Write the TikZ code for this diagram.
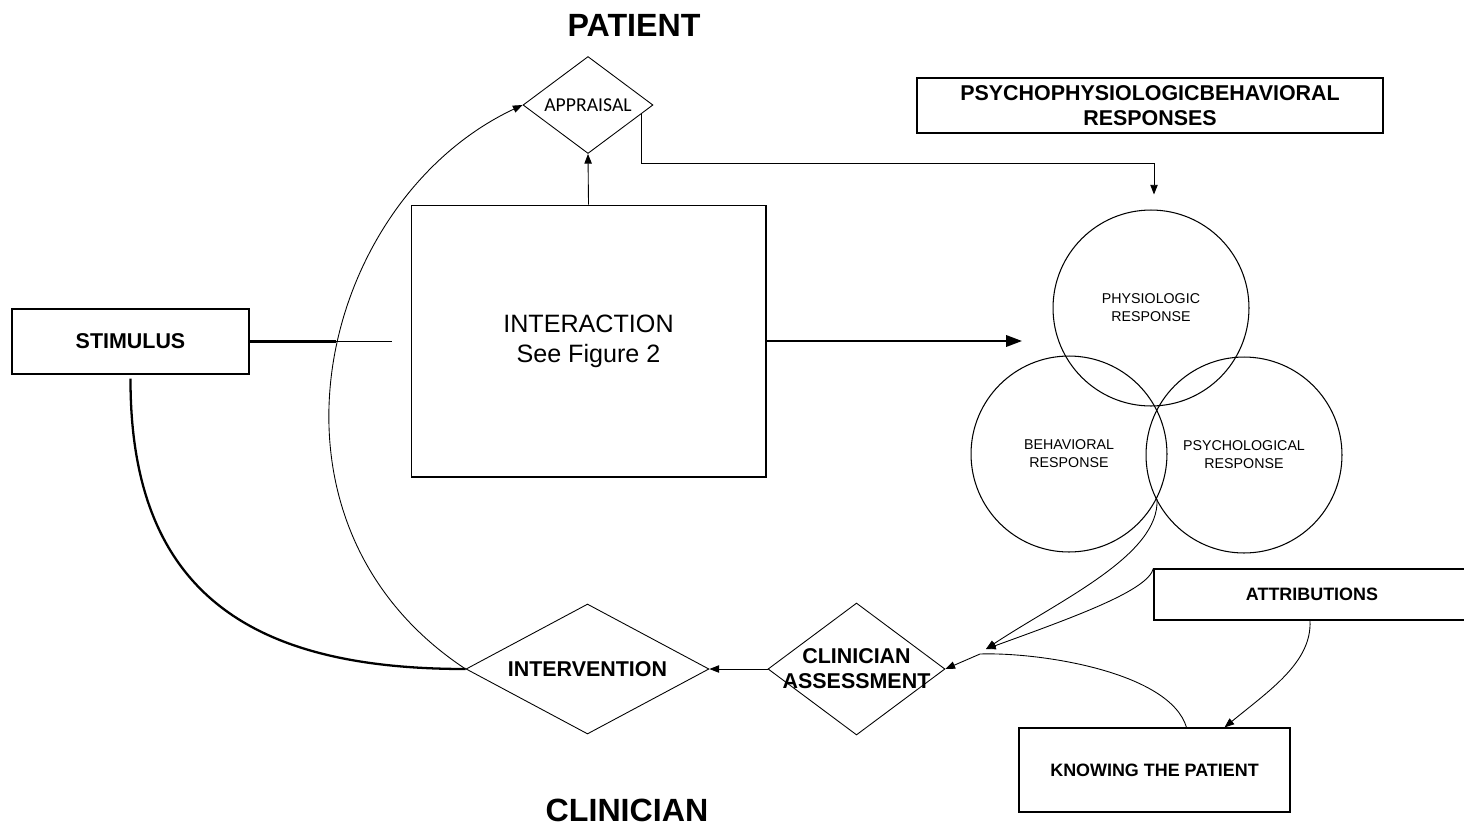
\documentclass[tikz,border=0pt]{standalone}
\usepackage{fontspec}
\setmainfont{Liberation Sans}
\newfontfamily\calibrifont{Carlito}
\usetikzlibrary{shapes.geometric,arrows.meta,calc}

\begin{document}
\begin{tikzpicture}[x=0.02cm,y=-0.02cm,
  box/.style={draw,line width=0.7pt,inner sep=0pt,align=center,
    font=\bfseries\fontsize{12.2}{14.2}\selectfont},
  dia/.style={draw,diamond,line width=0.5pt,inner sep=0pt},
  dialabel/.style={align=center,font=\bfseries\fontsize{12.2}{14.2}\selectfont},
  resp/.style={draw,circle,line width=0.6pt,minimum size=3.92cm,inner sep=0pt,
    align=center,font=\fontsize{8.1}{10.3}\selectfont},
  link/.style={line width=0.5pt},
  tip/.style={-{Triangle[length=5.5pt,width=4.2pt]}},
  title/.style={font=\bfseries\fontsize{18.3}{22}\selectfont}
]

\useasboundingbox (0,0) rectangle (1464,829);

% titles
\node[title]
(patient)
at (634,25)
{PATIENT};

\node[title]
(clinician)
at (627,810)
{CLINICIAN};

% boxes
\node[box,minimum width=4.74cm,minimum height=1.3cm]
(stim)
at (130.5,341.5)
{STIMULUS};

\node[box,line width=0.6pt,minimum width=7.1cm,minimum height=5.44cm,
  font=\fontsize{14.3}{17}\selectfont]
(inter)
at (588.5,341)
{INTERACTION\\See Figure 2};

\node[box,minimum width=9.32cm,minimum height=1.1cm]
(ppb)
at (1150,105.5)
{PSYCHOPHYSIOLOGICBEHAVIORAL\\RESPONSES};

\node[box,minimum width=6.32cm,minimum height=1.02cm,
  font=\bfseries\fontsize{10.2}{12}\selectfont]
(attr)
at (1312,594.5)
{ATTRIBUTIONS};

\node[box,minimum width=5.42cm,minimum height=1.68cm,
  font=\bfseries\fontsize{10.2}{12}\selectfont]
(know)
at (1154.5,770)
{KNOWING THE PATIENT};

% diamonds
\node[dia,minimum width=2.6cm,minimum height=1.94cm,
  label={[font=\calibrifont\fontsize{11.2}{13}\selectfont]center:APPRAISAL}]
(appr)
at (588,105)
{};

\node[dia,minimum width=4.86cm,minimum height=2.6cm,
  label={[dialabel]center:INTERVENTION}]
(interv)
at (587.5,669)
{};

\node[dia,minimum width=3.54cm,minimum height=2.64cm,
  label={[dialabel]center:CLINICIAN\\ASSESSMENT}]
(clin)
at (856.5,669)
{};

% responses
\node[resp]
(phys)
at (1151,308)
{PHYSIOLOGIC\\RESPONSE};

\node[resp]
(behav)
at (1069,454)
{BEHAVIORAL\\RESPONSE};

\node[resp]
(psych)
at (1244,455)
{PSYCHOLOGICAL\\RESPONSE};

% free ends
\coordinate (cross) at (336,341.5);
\coordinate (gap) at (392,341.5);
\coordinate (resp in) at (1022,341);
\coordinate (appr out) at ($(appr.east)!0.18!(appr.south)$);
\coordinate (bp) at (1157,499);
\coordinate (merge) at (986,649);
\coordinate (kbend) at (980,654);

% connectors
\draw[line width=1.4pt]
(stim.east)
--
(cross);

\draw[link]
(cross)
--
(gap);

\draw[line width=1.1pt,-{Triangle[length=9pt,width=6.5pt]}]
(inter.east)
--
(resp in);

\draw[link,tip]
(inter.north)
--
(appr.south);

\draw[link,tip]
(appr out)
|-
($(phys.north)+(3,-46)$)
--
($(phys.north)+(3,-15)$);

\draw[line width=1.3pt]
($(stim.south)+(0,4)$)
.. controls (130,600) and (260,669) ..
(interv.west);

\draw[link,tip]
(interv.west)
.. controls (240,520) and (320,200) ..
(appr.west);

\draw[link,tip]
(clin.west)
--
(interv.east);

\draw[link,tip]
(bp)
.. controls (1160,555) and (1060,600) ..
(merge);

\draw[link,tip]
(attr.north west)
.. controls (1148,590) and (1080,615) ..
(merge);

\draw[link,tip]
($(know.north)+(32,0)$)
.. controls (1170,672) and (1040,652) ..
(kbend)
--
(clin.east);

\draw[link,tip]
($(attr.south)+(-2,0)$)
.. controls (1312,662) and (1270,690) ..
($(know.north)+(70,0)$);

\end{tikzpicture}
\end{document}
